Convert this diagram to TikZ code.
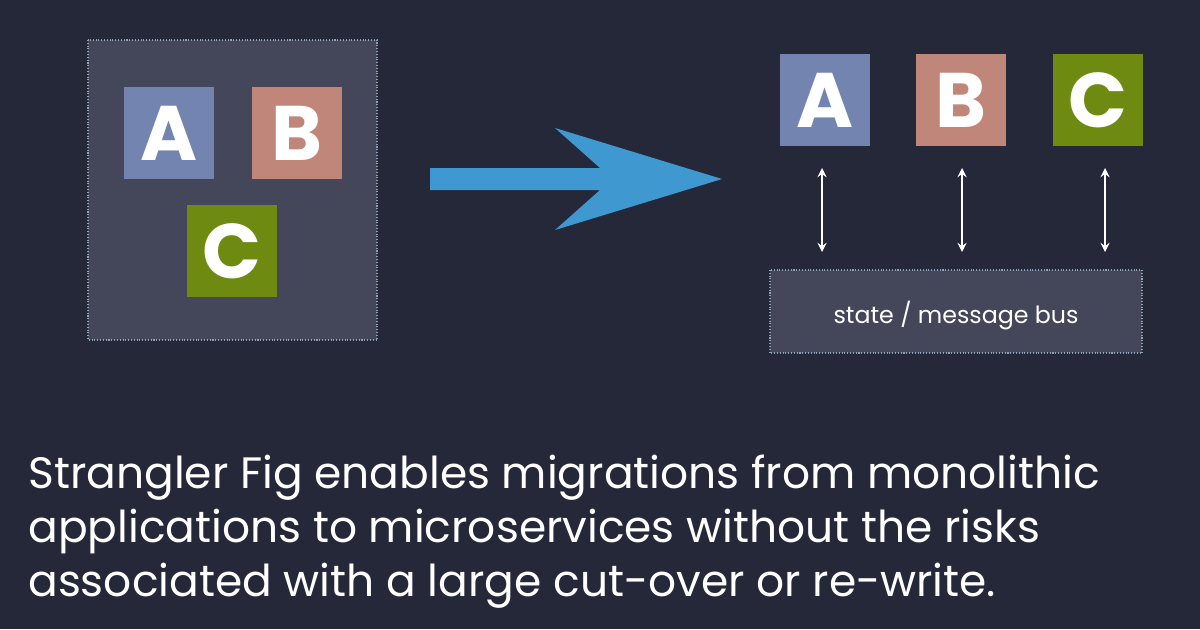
\documentclass[tikz,border=0pt]{standalone}
\usepackage{fontspec}
\setmainfont{Poppins}
\definecolor{bg}{HTML}{252838}
\definecolor{boxfill}{HTML}{44475A}
\definecolor{edge}{HTML}{8FA3B8}
\definecolor{sa}{HTML}{7484B0}
\definecolor{sb}{HTML}{C0867A}
\definecolor{sc}{HTML}{6F8A10}
\definecolor{flow}{HTML}{3F98D0}
\begin{document}
\begin{tikzpicture}[x=0.02cm,y=-0.02cm,
    svc/.style={minimum width=1.8cm,minimum height=1.85cm,inner sep=0pt,text=white,font=\fontsize{44}{44}\selectfont\bfseries},
    group/.style={fill=boxfill,draw=edge,densely dotted,line width=0.6pt},
    link/.style={white,line width=1.3pt,<->,>=stealth}]
  \fill[bg] (0,0) rectangle (1200,629);
  \useasboundingbox (0,0) rectangle (1200,629);

  % monolith
  \draw[group] (88,40) rectangle (377,340);
  \node[svc,fill=sa] (a1) at (169,133) {A};
  \node[svc,fill=sb] (b1) at (297,133) {B};
  \node[svc,fill=sc] (c1) at (232,251) {C};

  % migration arrow
  \fill[flow] (430,168) -- (600,168) -- (555,128) -- (722,179) -- (555,230) -- (600,190) -- (430,190) -- cycle;

  % services
  \node[svc,fill=sa] (a2) at (825,100) {A};
  \node[svc,fill=sb] (b2) at (961,100) {B};
  \node[svc,fill=sc] (c2) at (1098,100) {C};
  \draw[group] (770,270) rectangle (1142,353);
  \node[text=white,font=\fontsize{13.5}{13.5}\selectfont] (bus) at (956,316) {state / message bus};
  \coordinate (ta) at (822,168); \coordinate (ba) at (822,252);
  \coordinate (tb) at (962,168); \coordinate (bb) at (962,252);
  \coordinate (tc) at (1105,168); \coordinate (bc) at (1105,252);
  \draw[link] (ta) -- (ba);
  \draw[link] (tb) -- (bb);
  \draw[link] (tc) -- (bc);

  % caption
  \node[anchor=north west,align=left,text=white,font=\fontsize{25}{30.7}\selectfont,inner sep=0pt] (cap) at (28,455)
    {Strangler Fig enables migrations from monolithic\\applications to microservices without the risks\\associated with a large cut-over or re-write.};
\end{tikzpicture}
\end{document}
